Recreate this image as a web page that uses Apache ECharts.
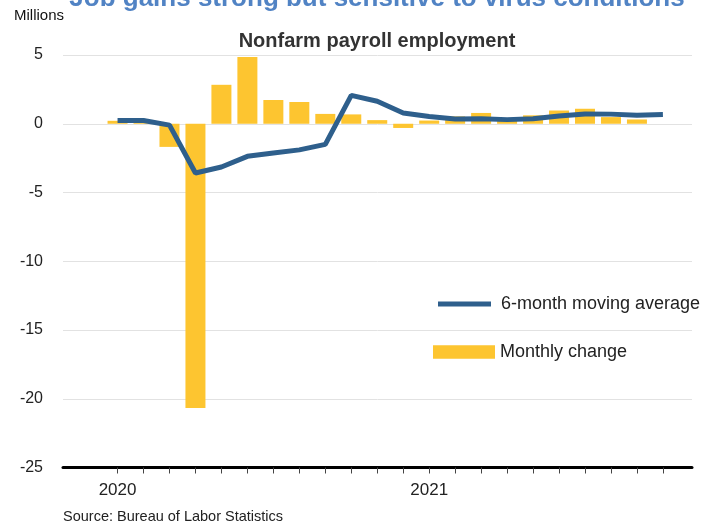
<!DOCTYPE html>
<html>
<head>
<meta charset="utf-8">
<title>Nonfarm payroll employment</title>
<script src="https://cdn.jsdelivr.net/npm/echarts@6/dist/echarts.min.js"></script>
<style>
  html, body { margin: 0; padding: 0; background: #fff; }
  #chart { width: 717px; height: 525px; }
</style>
</head>
<body>
<div id="chart"></div>
<script>
// Months on the horizontal axis (index 0 = January 2020)
const months = [
  '2020-01', '2020-02', '2020-03', '2020-04', '2020-05', '2020-06',
  '2020-07', '2020-08', '2020-09', '2020-10', '2020-11', '2020-12',
  '2021-01', '2021-02', '2021-03', '2021-04', '2021-05', '2021-06',
  '2021-07', '2021-08', '2021-09', '2021-10'
];

// Monthly change in nonfarm payrolls, millions (through September 2021)
const monthlyChange = [
  0.214, 0.251, -1.683, -20.679, 2.833, 4.846,
  1.726, 1.583, 0.716, 0.680, 0.264, -0.306,
  0.233, 0.536, 0.785, 0.269, 0.614, 0.962,
  1.091, 0.483, 0.312
];

// 6-month moving average of the monthly change, millions
const movingAverage = [
  0.24, 0.24, -0.10, -3.58, -3.15, -2.37,
  -2.12, -1.90, -1.50, 2.06, 1.64, 0.78,
  0.53, 0.35, 0.37, 0.30, 0.36, 0.57,
  0.71, 0.70, 0.62, 0.67
];

// Years labelled under the January ticks
const yearTicks = [0, 12];

const FONT = '"Liberation Sans", Arial, Helvetica, sans-serif';
const BAR_COLOR = '#FDC530';
const LINE_COLOR = '#2E5F8C';

const tickValues = months.map((m, i) => i);

const chart = echarts.init(document.getElementById('chart'), null, { renderer: 'canvas' });

chart.setOption({
  animation: false,
  backgroundColor: '#ffffff',
  textStyle: { fontFamily: FONT },
  title: [
    {
      text: 'Job gains strong but sensitive to virus conditions',
      left: 377,
      textAlign: 'center',
      top: -14,
      padding: 0,
      textStyle: { fontFamily: FONT, fontSize: 26, fontWeight: 'bold', color: '#5183C4' }
    },
    {
      text: 'Nonfarm payroll employment',
      left: 377,
      textAlign: 'center',
      top: 31,
      padding: 0,
      textStyle: { fontFamily: FONT, fontSize: 20, fontWeight: 'bold', color: '#333333' }
    }
  ],
  graphic: [
    {
      type: 'text',
      style: { text: 'Millions', x: 14, y: 16, fill: '#111', font: '15px ' + FONT, verticalAlign: 'middle' }
    },
    {
      type: 'text',
      style: { text: 'Source: Bureau of Labor Statistics', x: 63, y: 517, fill: '#222', font: '14.5px ' + FONT, verticalAlign: 'middle' }
    }
  ],
  legend: [
    {
      data: [{ name: '6-month moving average', icon: 'rect' }],
      left: 438, top: 295, padding: 0,
      itemWidth: 53, itemHeight: 5,
      textStyle: { fontFamily: FONT, fontSize: 18, color: '#222', padding: [3, 0, 0, 5] }
    },
    {
      data: [{ name: 'Monthly change', icon: 'rect' }],
      left: 433, top: 343, padding: 0,
      itemWidth: 62, itemHeight: 13.5,
      textStyle: { fontFamily: FONT, fontSize: 18, color: '#222' }
    }
  ],
  grid: { left: 63, right: 25, top: 55, bottom: 57.5, containLabel: false },
  xAxis: {
    type: 'value',
    min: -2.1,
    max: 22.12,
    axisLine: { onZero: false, lineStyle: { color: '#000', width: 3 } },
    axisTick: { customValues: tickValues, length: 6, lineStyle: { color: '#444', width: 1 } },
    axisLabel: {
      customValues: yearTicks,
      formatter: v => months[Math.round(v)].slice(0, 4),
      margin: 14,
      fontFamily: FONT,
      fontSize: 17,
      color: '#222'
    },
    splitLine: { show: false }
  },
  yAxis: {
    type: 'value',
    min: -25,
    max: 5,
    interval: 5,
    axisLine: { show: false },
    axisTick: { show: false },
    axisLabel: { margin: 20, fontFamily: FONT, fontSize: 16, color: '#222' },
    splitLine: { lineStyle: { color: '#e2e2e2', width: 1 } }
  },
  series: [
    {
      name: 'Monthly change',
      type: 'bar',
      barWidth: 20,
      itemStyle: { color: BAR_COLOR },
      data: monthlyChange.map((v, i) => [i, v]),
      z: 2
    },
    {
      name: '6-month moving average',
      type: 'line',
      symbol: 'none',
      showSymbol: false,
      lineStyle: { color: LINE_COLOR, width: 5 },
      itemStyle: { color: LINE_COLOR },
      data: movingAverage.map((v, i) => [i, v]),
      z: 3
    }
  ]
});
</script>
</body>
</html>
